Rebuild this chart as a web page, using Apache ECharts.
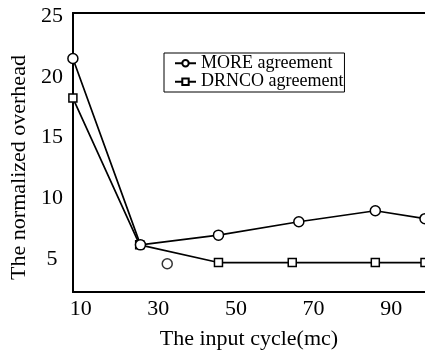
<!DOCTYPE html>
<html>
<head>
<meta charset="utf-8">
<script src="https://cdn.jsdelivr.net/npm/echarts@6/dist/echarts.min.js"></script>
<style>
  html, body { margin: 0; padding: 0; background: #fff; }
  #chart { width: 425px; height: 355px; }
</style>
</head>
<body>
<div id="chart"></div>
<script>
// data
const moreX = [8, 25.4, 45.5, 66.2, 85.9, 98.7];
const moreY = [21.5, 6.2, 7.0, 8.1, 9.0, 8.35];
const drncoX = [8, 25.2, 45.5, 64.5, 85.9, 98.7];
const drncoY = [18.25, 6.2, 4.75, 4.75, 4.75, 4.75];
const strayX = [32.3];
const strayY = [4.65];
const xTicks = [10, 30, 50, 70, 90];
const yTicks = [5, 10, 15, 20, 25];

const FONT = 'Liberation Serif';
const pair = (xs, ys) => xs.map((x, i) => [x, ys[i]]);

const chart = echarts.init(document.getElementById('chart'));

const mark = { color: '#fff', borderColor: '#000', borderWidth: 1.5 };

chart.setOption({
  animation: false,
  backgroundColor: '#fff',
  grid: { left: 70, right: 0, top: 13, bottom: 59, show: false },
  legend: {
    orient: 'vertical',
    left: 164,
    top: 53,
    data: ['MORE agreement', 'DRNCO agreement'],
    padding: [1, 1, 1, 10],
    itemGap: 0,
    itemWidth: 21,
    itemHeight: 8,
    borderColor: '#000',
    borderWidth: 1,
    borderRadius: 0,
    textStyle: { fontFamily: FONT, fontSize: 18, color: '#000', lineHeight: 18.5 }
  },
  xAxis: [
    {
      type: 'value',
      min: 8,
      max: 98.7,
      name: 'The input cycle(mc)',
      nameLocation: 'middle',
      nameGap: 36,
      nameTextStyle: { fontFamily: FONT, fontSize: 22, color: '#000' },
      axisLine: { lineStyle: { color: '#000', width: 2 } },
      axisTick: { show: false },
      splitLine: { show: false },
      axisLabel: {
        customValues: xTicks,
        margin: 6,
        fontFamily: FONT, fontSize: 22, color: '#000'
      }
    },
    {
      type: 'value',
      position: 'top',
      min: 8,
      max: 98.7,
      axisLine: { show: true, lineStyle: { color: '#000', width: 2 } },
      axisTick: { show: false },
      axisLabel: { show: false },
      splitLine: { show: false }
    }
  ],
  yAxis: {
    type: 'value',
    min: 2.33,
    max: 25.24,
    name: 'The normalized overhead',
    nameLocation: 'middle',
    nameGap: 29,
    nameTextStyle: { fontFamily: FONT, fontSize: 22, color: '#000', padding: [0, 30, 0, 0] },
    axisLine: { show: true, lineStyle: { color: '#000', width: 2 } },
    axisTick: { show: false },
    splitLine: { show: false },
    axisLabel: {
      customValues: yTicks,
      align: 'center',
      margin: 21,
      fontFamily: FONT, fontSize: 22, color: '#000'
    }
  },
  series: [
    {
      name: 'MORE agreement',
      type: 'line',
      data: pair(moreX, moreY),
      symbol: 'circle',
      symbolSize: 10,
      lineStyle: { color: '#000', width: 1.7 },
      itemStyle: mark,
      z: 3
    },
    {
      name: 'DRNCO agreement',
      type: 'line',
      data: pair(drncoX, drncoY),
      symbol: 'rect',
      symbolSize: 8,
      lineStyle: { color: '#000', width: 1.7 },
      itemStyle: mark,
      z: 2
    },
    {
      name: 'stray',
      type: 'scatter',
      data: pair(strayX, strayY),
      symbol: 'circle',
      symbolSize: 10,
      itemStyle: mark
    }
  ]
});
</script>
</body>
</html>
